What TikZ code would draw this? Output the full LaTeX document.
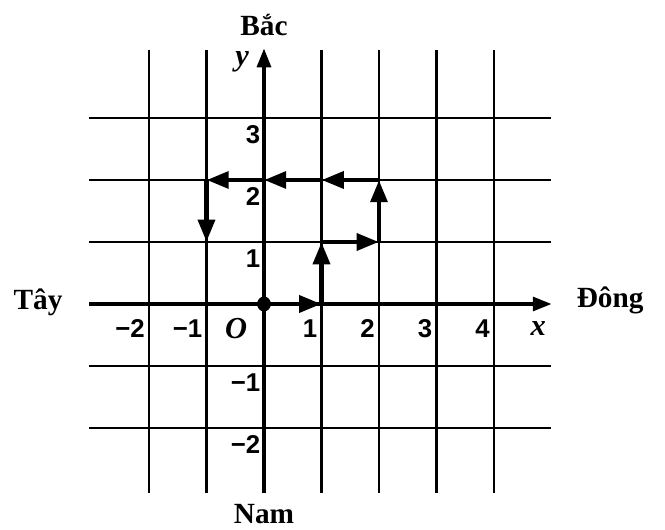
\documentclass[tikz,border=0pt]{standalone}
\usepackage{fontspec}
\setmainfont{Liberation Serif}
\newfontfamily\numfont{Liberation Sans}
\usetikzlibrary{arrows.meta}
\tikzset{%
  gridline/.style = {line width=1.9pt},
  axisline/.style = {line width=2.6pt,-{Triangle[length=16pt,width=12pt]}},
  moveline/.style = {line width=4.2pt,-{Triangle[length=19pt,width=14pt]}},
  dirlabel/.style = {font=\fontsize{25}{26}\selectfont\bfseries},
  ticklabel/.style = {font=\fontsize{22}{23}\selectfont\bfseries\numfont,
        inner sep=0pt,anchor=east},
  varlabel/.style = {font=\fontsize{26}{27}\selectfont\itshape\bfseries}
}

\begin{document}
\begin{tikzpicture}[x=1.725cm,y=1.86cm]
        \useasboundingbox (-4.591,-3.645) rectangle (6.974,4.903);
        % grid
        \foreach \i in {-2,-1,1,2,3,4}
          \draw[gridline] (\i,-3.05) -- (\i,4.1);
        \foreach \j in {-2,-1,1,2,3}
          \draw[gridline] (-3.04,\j) -- (4.99,\j);
        % axes
        \coordinate (xs) at (-3.04,0);
        \coordinate (xe) at (5.0,0);
        \coordinate (ys) at (0,-3.05);
        \coordinate (ye) at (0,4.12);
        \draw[axisline] (xs) -- (xe);
        \draw[axisline] (ys) -- (ye);

        % directions
        \node[dirlabel] (north) at (0,4.5) {Bắc};
        \node[dirlabel] (south) at (0,-3.38) {Nam};
        \node[dirlabel] (west) at (-3.93,0.02) {Tây};
        \node[dirlabel] (east) at (6.02,0.06) {Đông};
        \node[varlabel] (ylab) at (-0.38,3.9) {y};
        \node[varlabel] (xlab) at (4.77,-0.39) {x};
        \node[varlabel,anchor=east] (olab) at (-0.22,-0.39) {O};

        % tick labels
        \foreach \i/\t in {-2/−2,-1/−1,1/1,2/2,3/3,4/4}
          \node[ticklabel] (tx\i) at (\i-0.07,-0.39) {\t};
        \foreach \j/\t in {-2/−2,-1/−1,1/1,2/2,3/3}
          \node[ticklabel] (ty\j) at (-0.06,\j-0.27) {\t};

        % walk
        \coordinate (p0) at (0,0);
        \coordinate (p1) at (1,0);
        \coordinate (p2) at (1,1);
        \coordinate (p3) at (2,1);
        \coordinate (p4) at (2,2);
        \coordinate (p5) at (1,2);
        \coordinate (p6) at (0,2);
        \coordinate (p7) at (-1,2);
        \coordinate (p8) at (-1,1);
        \foreach \a/\b in {p0/p1,p1/p2,p2/p3,p3/p4,p4/p5,p5/p6,p6/p7,p7/p8}
          \draw[moveline] (\a) -- (\b);
        \fill (p0) circle (0.12);
    \end{tikzpicture}
\end{document}
